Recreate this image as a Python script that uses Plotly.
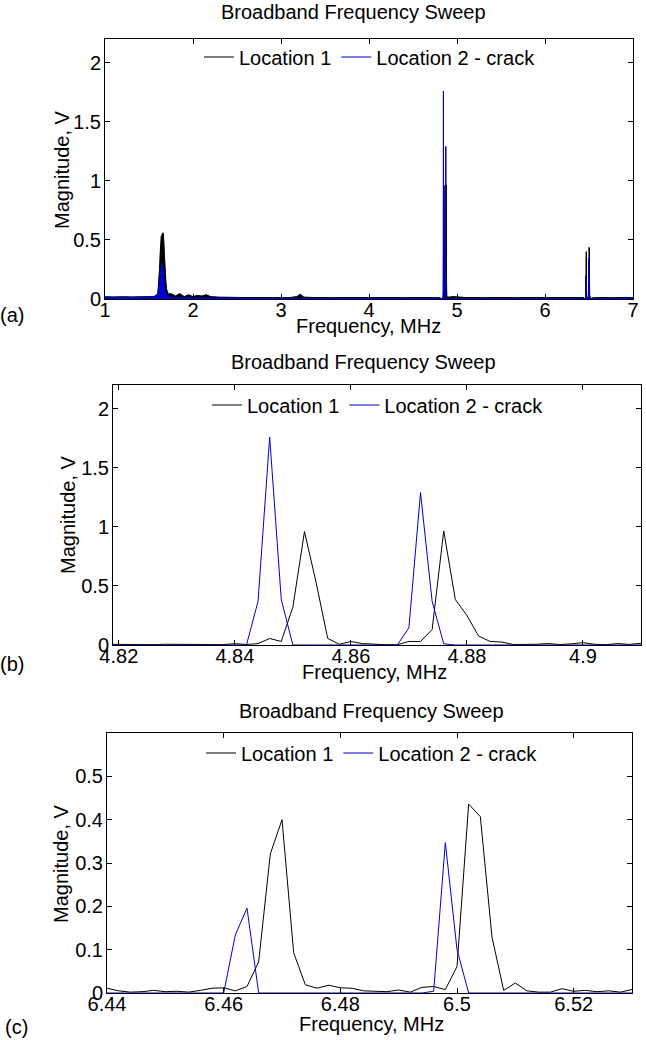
import plotly.graph_objects as go

FONT = "Arial, Liberation Sans, Helvetica, sans-serif"
BLACK = "#000000"
BLUE = "#0000cc"
W, H = 646, 1040

series_names = ["Location 1", "Location 2 - crack"]
panel_title = "Broadband Frequency Sweep"
x_title = "Frequency, MHz"
y_title = "Magnitude, V"
panel_labels = ["(a)", "(b)", "(c)"]

# ---------------- Panel (a): broadband sweep, read-off points outside the zoom windows
broad_freq_loc1 = [1.00, 1.10, 1.20, 1.30, 1.40, 1.50, 1.56, 1.60, 1.62, 1.63, 1.64, 1.645,
                   1.65, 1.655, 1.66, 1.665, 1.67, 1.68, 1.69, 1.70, 1.72, 1.75, 1.80, 1.85,
                   1.90, 1.95, 2.00, 2.05, 2.10, 2.15, 2.20, 2.30, 2.50, 2.70, 2.90, 3.10,
                   3.18, 3.22, 3.26, 3.40, 3.60, 3.80, 4.00, 4.20, 4.40, 4.60, 4.80, 4.95,
                   5.10, 5.30, 5.50, 5.70, 5.90, 6.10, 6.30, 6.60, 6.80, 7.00]
broad_mag_loc1 = [0.018, 0.017, 0.018, 0.017, 0.018, 0.019, 0.022, 0.04, 0.25, 0.42, 0.53, 0.48,
                  0.55, 0.50, 0.56, 0.52, 0.45, 0.30, 0.16, 0.08, 0.04, 0.045, 0.025, 0.045,
                  0.02, 0.035, 0.02, 0.03, 0.025, 0.035, 0.02, 0.015, 0.013, 0.012, 0.011, 0.012,
                  0.02, 0.04, 0.015, 0.012, 0.011, 0.012, 0.011, 0.012, 0.011, 0.012, 0.011, 0.02,
                  0.012, 0.011, 0.012, 0.011, 0.012, 0.011, 0.012, 0.012, 0.011, 0.012]
broad_freq_loc2 = [1.00, 1.10, 1.20, 1.30, 1.40, 1.50, 1.56, 1.60, 1.62, 1.63, 1.64, 1.65,
                   1.66, 1.67, 1.68, 1.70, 1.75, 1.80, 2.00, 2.20, 2.50, 3.00, 3.50, 4.00,
                   4.50, 4.80, 4.95, 5.50, 6.00, 6.30, 6.60, 7.00]
broad_mag_loc2 = [0.014, 0.013, 0.014, 0.013, 0.014, 0.015, 0.018, 0.04, 0.12, 0.22, 0.28, 0.30,
                  0.24, 0.15, 0.08, 0.03, 0.012, 0.01, 0.009, 0.008, 0.007, 0.006, 0.006, 0.006,
                  0.006, 0.005, 0.005, 0.005, 0.005, 0.005, 0.005, 0.006]

# ---------------- Panel (b): zoom 4.82 - 4.91 MHz
freq_b = [4.818, 4.820, 4.822, 4.824, 4.826, 4.828, 4.830, 4.832, 4.834, 4.836, 4.838, 4.840,
          4.842, 4.844, 4.846, 4.848, 4.850, 4.852, 4.854, 4.856, 4.858, 4.860, 4.862, 4.864,
          4.866, 4.868, 4.870, 4.872, 4.874, 4.876, 4.878, 4.880, 4.882, 4.884, 4.886, 4.888,
          4.890, 4.892, 4.894, 4.896, 4.898, 4.900, 4.902, 4.904, 4.906, 4.908, 4.910]
mag_b_loc1 = [0.006, 0.004, 0.008, 0.005, 0.003, 0.006, 0.004, 0.008, 0.005, 0.004, 0.003, 0.012,
              0.004, 0.012, 0.055, 0.03, 0.32, 0.96, 0.53, 0.056, 0.006, 0.03, 0.012, 0.006,
              0.002, 0.002, 0.03, 0.03, 0.13, 0.965, 0.385, 0.25, 0.076, 0.03, 0.025, 0.004,
              0.002, 0.006, 0.012, 0.004, 0.010, 0.020, 0.006, 0.003, 0.012, 0.005, 0.015]
mag_b_loc2 = [0, 0, 0, 0, 0, 0, 0, 0, 0, 0, 0, 0,
              0, 0.37, 1.76, 0.385, 0, 0, 0, 0, 0, 0, 0, 0,
              0, 0, 0.146, 1.29, 0.37, 0.01, 0, 0, 0, 0, 0, 0,
              0, 0, 0, 0, 0, 0, 0, 0, 0, 0, 0]

# ---------------- Panel (c): zoom 6.44 - 6.53 MHz
freq_c = [6.440, 6.442, 6.444, 6.446, 6.448, 6.450, 6.452, 6.454, 6.456, 6.458, 6.460, 6.462,
          6.464, 6.466, 6.468, 6.470, 6.472, 6.474, 6.476, 6.478, 6.480, 6.482, 6.484, 6.486,
          6.488, 6.490, 6.492, 6.494, 6.496, 6.498, 6.500, 6.502, 6.504, 6.506, 6.508, 6.510,
          6.512, 6.514, 6.516, 6.518, 6.520, 6.522, 6.524, 6.526, 6.528, 6.530]
mag_c_loc1 = [0.011, 0.005, 0.002, 0.003, 0.006, 0.003, 0.004, 0.002, 0.006, 0.011, 0.012, 0.005,
              0.015, 0.072, 0.321, 0.40, 0.093, 0.019, 0.011, 0.018, 0.012, 0.011, 0.005, 0.004,
              0.003, 0.007, 0.002, 0.013, 0.015, 0.008, 0.061, 0.436, 0.407, 0.129, 0.006, 0.023,
              0.005, 0.002, 0.002, 0.010, 0.004, 0.006, 0.003, 0.005, 0.002, 0.008]
mag_c_loc2 = [0, 0, 0, 0, 0, 0, 0, 0, 0, 0, 0, 0.134,
              0.196, 0, 0, 0, 0, 0, 0, 0, 0, 0, 0, 0,
              0, 0, 0, 0, 0.004, 0.347, 0.10, 0, 0, 0, 0, 0,
              0, 0, 0, 0, 0, 0, 0, 0, 0, 0]

# ---------------- axis ticks
ticks_a_x = [1, 2, 3, 4, 5, 6, 7]
ticks_a_y = [0, 0.5, 1, 1.5, 2]
ticks_b_x = [4.82, 4.84, 4.86, 4.88, 4.90]
ticklabels_b_x = ["4.82", "4.84", "4.86", "4.88", "4.9"]
ticks_c_x = [6.44, 6.46, 6.48, 6.50, 6.52]
ticklabels_c_x = ["6.44", "6.46", "6.48", "6.5", "6.52"]
ticks_c_y = [0, 0.1, 0.2, 0.3, 0.4, 0.5]


def merge(*pairs):
    pts = []
    for f, m in pairs:
        pts.extend(zip(f, m))
    pts.sort(key=lambda p: p[0])
    return [p[0] for p in pts], [p[1] for p in pts]


full_f1, full_m1 = merge((broad_freq_loc1, broad_mag_loc1), (freq_b, mag_b_loc1), (freq_c, mag_c_loc1))
full_f2, full_m2 = merge((broad_freq_loc2, broad_mag_loc2), (freq_b, mag_b_loc2), (freq_c, mag_c_loc2))


def px(x):
    return x / W


def py(y):
    return 1 - y / H


fig = go.Figure()

# Panel (a): dense sweep rendered as filled traces + line traces for the legend
fig.add_trace(go.Scatter(x=full_f1, y=full_m1, mode="lines", fill="tozeroy", fillcolor=BLACK,
                         line=dict(color=BLACK, width=0.5, simplify=False), showlegend=False,
                         xaxis="x", yaxis="y", hoverinfo="skip"))
fig.add_trace(go.Scatter(x=full_f1, y=full_m1, mode="lines", name=series_names[0],
                         line=dict(color=BLACK, width=1, simplify=False), legend="legend",
                         xaxis="x", yaxis="y"))
fig.add_trace(go.Scatter(x=full_f2, y=full_m2, mode="lines", fill="tozeroy", fillcolor=BLUE,
                         line=dict(color=BLUE, width=0.5, simplify=False), showlegend=False,
                         xaxis="x", yaxis="y", hoverinfo="skip"))
fig.add_trace(go.Scatter(x=full_f2, y=full_m2, mode="lines", name=series_names[1],
                         line=dict(color=BLUE, width=1, simplify=False), legend="legend",
                         xaxis="x", yaxis="y"))

# Panel (b)
fig.add_trace(go.Scatter(x=freq_b, y=mag_b_loc1, mode="lines", name=series_names[0],
                         line=dict(color=BLACK, width=1), legend="legend2", xaxis="x2", yaxis="y2"))
fig.add_trace(go.Scatter(x=freq_b, y=mag_b_loc2, mode="lines", name=series_names[1],
                         line=dict(color=BLUE, width=1), legend="legend2", xaxis="x2", yaxis="y2"))

# Panel (c)
fig.add_trace(go.Scatter(x=freq_c, y=mag_c_loc1, mode="lines", name=series_names[0],
                         line=dict(color=BLACK, width=1), legend="legend3", xaxis="x3", yaxis="y3"))
fig.add_trace(go.Scatter(x=freq_c, y=mag_c_loc2, mode="lines", name=series_names[1],
                         line=dict(color=BLUE, width=1), legend="legend3", xaxis="x3", yaxis="y3"))

tickfont = dict(family=FONT, size=20, color=BLACK)
common = dict(showline=True, linecolor=BLACK, linewidth=1, mirror="ticks", ticks="inside",
              ticklen=5, tickwidth=1, tickcolor=BLACK, showgrid=False, zeroline=False,
              tickfont=tickfont, automargin=False, fixedrange=True)
xcommon = dict(ticklabelstandoff=-7, **common)
ycommon = dict(ticklabelstandoff=-1, **common)

boxes = {  # pixel boxes: left, right, top, bottom
    "a": (105, 633, 39, 299),
    "b": (113, 641, 385, 645),
    "c": (107, 632, 733, 993),
}

la, ra, ta, ba = boxes["a"]
lb, rb, tb, bb = boxes["b"]
lc, rc, tc, bc = boxes["c"]

legend_common = dict(orientation="h", xanchor="center", yanchor="middle",
                     font=dict(family=FONT, size=20, color=BLACK),
                     bgcolor="rgba(0,0,0,0)", borderwidth=0, itemclick=False, itemdoubleclick=False)

fig.update_layout(
    width=W, height=H, margin=dict(l=0, r=0, t=0, b=0),
    paper_bgcolor="white", plot_bgcolor="white",
    font=dict(family=FONT, size=20, color=BLACK),
    xaxis=dict(domain=[px(la), px(ra)], range=[1, 7], tickvals=ticks_a_x, anchor="y", **xcommon),
    yaxis=dict(domain=[py(ba), py(ta)], range=[0, 2.2], tickvals=ticks_a_y, anchor="x", **ycommon),
    xaxis2=dict(domain=[px(lb), px(rb)], range=[4.819, 4.91], tickvals=ticks_b_x,
                ticktext=ticklabels_b_x, anchor="y2", **xcommon),
    yaxis2=dict(domain=[py(bb), py(tb)], range=[0, 2.2], tickvals=ticks_a_y, anchor="x2", **ycommon),
    xaxis3=dict(domain=[px(lc), px(rc)], range=[6.44, 6.53], tickvals=ticks_c_x,
                ticktext=ticklabels_c_x, anchor="y3", **xcommon),
    yaxis3=dict(domain=[py(bc), py(tc)], range=[0, 0.6], tickvals=ticks_c_y, anchor="x3", **ycommon),
    legend=dict(x=px(370), y=py(57), **legend_common),
    legend2=dict(x=px(378), y=py(405), **legend_common),
    legend3=dict(x=px(372), y=py(753), **legend_common),
    showlegend=True,
)

annotations = []
# titles
for xc, yc in [(353, 12), (364, 362), (371, 711)]:
    annotations.append(dict(text=panel_title, x=px(xc), y=py(yc), xref="paper", yref="paper",
                            showarrow=False, xanchor="center", yanchor="middle",
                            font=dict(family=FONT, size=20, color=BLACK)))
# x-axis titles
for xc, yc in [(368, 326), (374, 672), (371, 1024)]:
    annotations.append(dict(text=x_title, x=px(xc), y=py(yc), xref="paper", yref="paper",
                            showarrow=False, xanchor="center", yanchor="middle",
                            font=dict(family=FONT, size=20, color=BLACK)))
# y-axis titles
for xc, yc in [(62, 170), (68, 515), (61, 863)]:
    annotations.append(dict(text=y_title, x=px(xc), y=py(yc), xref="paper", yref="paper",
                            showarrow=False, xanchor="center", yanchor="middle", textangle=-90,
                            font=dict(family=FONT, size=20, color=BLACK)))
# panel labels
for lab, (xc, yc) in zip(panel_labels, [(12, 315), (12, 664), (16, 1027)]):
    annotations.append(dict(text=lab, x=px(xc), y=py(yc), xref="paper", yref="paper",
                            showarrow=False, xanchor="center", yanchor="middle",
                            font=dict(family=FONT, size=20, color=BLACK)))
fig.update_layout(annotations=annotations)

fig.write_html("out.html",
               config={"displayModeBar": False},
               post_script="document.body.style.margin='0';document.body.style.padding='0';"
                           "document.body.style.overflow='hidden';")
